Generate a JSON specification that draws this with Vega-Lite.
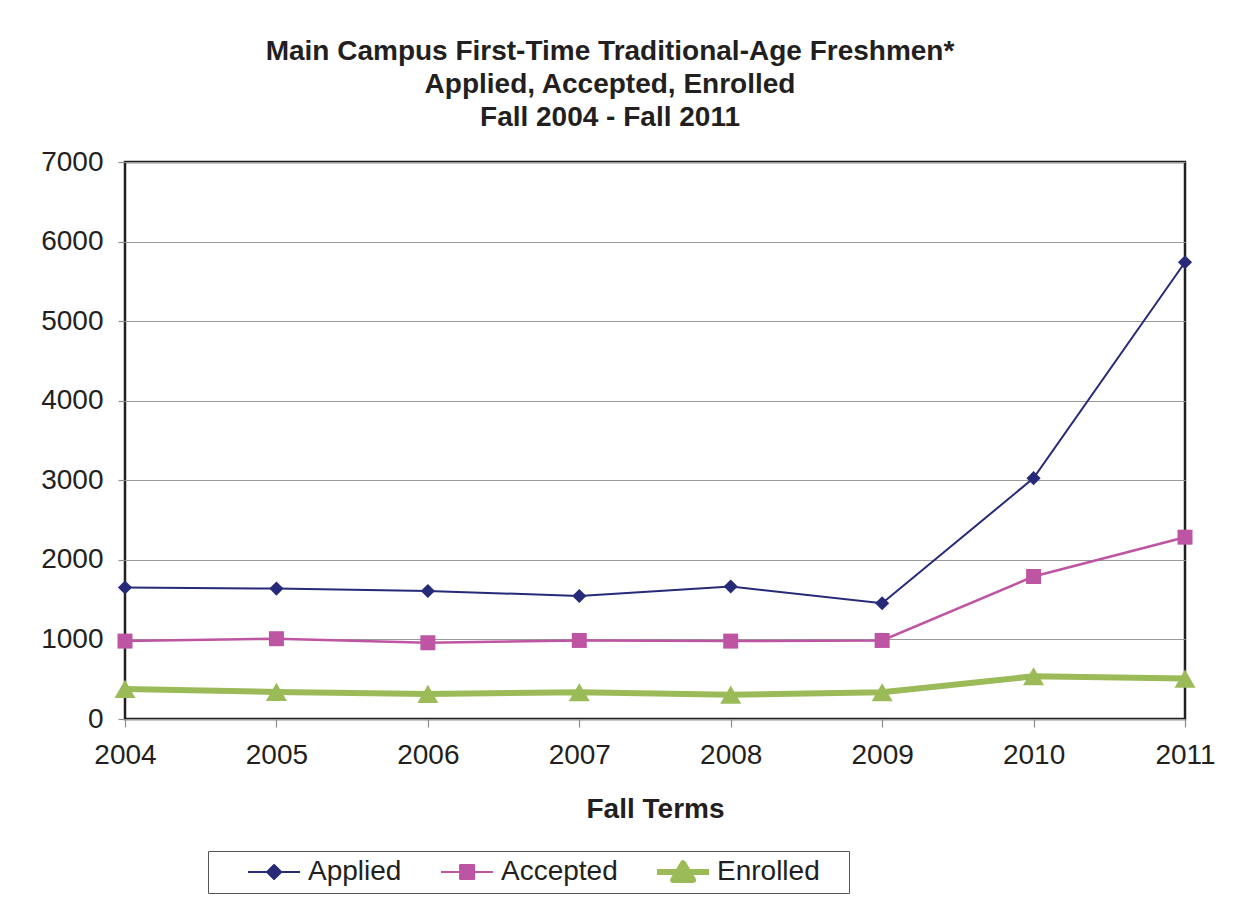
{
  "$schema": "https://vega.github.io/schema/vega-lite/v6.json",
  "width": 1060,
  "height": 557,
  "autosize": {"type": "none"},
  "padding": {"left": 125, "top": 162, "right": 69, "bottom": 188},
  "background": "white",
  "title": {
    "text": ["Main Campus First-Time Traditional-Age Freshmen*", "Applied, Accepted, Enrolled", "Fall 2004 - Fall 2011"],
    "anchor": "middle",
    "frame": "group",
    "dx": -45,
    "offset": 16,
    "font": "Liberation Sans",
    "fontSize": 28,
    "fontWeight": "bold",
    "lineHeight": 33,
    "color": "#231F20"
  },
  "config": {
    "view": {"stroke": "#231F20", "strokeWidth": 2.5},
    "axis": {
      "labelFont": "Liberation Sans",
      "labelFontSize": 28,
      "labelColor": "#231F20",
      "titleFont": "Liberation Sans",
      "titleFontSize": 28,
      "titleFontWeight": "bold",
      "titleColor": "#231F20",
      "domain": false,
      "tickColor": "#8c8c8c",
      "tickWidth": 1.2
    }
  },
  "data": {
    "values": [
      {"year": "2004", "series": "Applied", "count": 1652},
      {"year": "2005", "series": "Applied", "count": 1639},
      {"year": "2006", "series": "Applied", "count": 1609},
      {"year": "2007", "series": "Applied", "count": 1546},
      {"year": "2008", "series": "Applied", "count": 1665},
      {"year": "2009", "series": "Applied", "count": 1454},
      {"year": "2010", "series": "Applied", "count": 3027},
      {"year": "2011", "series": "Applied", "count": 5740},
      {"year": "2004", "series": "Accepted", "count": 979},
      {"year": "2005", "series": "Accepted", "count": 1009},
      {"year": "2006", "series": "Accepted", "count": 958},
      {"year": "2007", "series": "Accepted", "count": 987},
      {"year": "2008", "series": "Accepted", "count": 979},
      {"year": "2009", "series": "Accepted", "count": 987},
      {"year": "2010", "series": "Accepted", "count": 1791},
      {"year": "2011", "series": "Accepted", "count": 2285},
      {"year": "2004", "series": "Enrolled", "count": 378},
      {"year": "2005", "series": "Enrolled", "count": 340},
      {"year": "2006", "series": "Enrolled", "count": 315},
      {"year": "2007", "series": "Enrolled", "count": 336},
      {"year": "2008", "series": "Enrolled", "count": 306},
      {"year": "2009", "series": "Enrolled", "count": 336},
      {"year": "2010", "series": "Enrolled", "count": 537},
      {"year": "2011", "series": "Enrolled", "count": 508}
    ]
  },
  "encoding": {
    "x": {
      "field": "year",
      "type": "ordinal",
      "scale": {"type": "point", "padding": 0},
      "axis": {
        "title": "Fall Terms",
        "labelAngle": 0,
        "tickSize": 8,
        "labelPadding": 14,
        "titlePadding": 26,
        "grid": false
      }
    },
    "y": {
      "field": "count",
      "type": "quantitative",
      "scale": {"domain": [0, 7000], "nice": false},
      "axis": {
        "title": null,
        "values": [0, 1000, 2000, 3000, 4000, 5000, 6000, 7000],
        "format": "d",
        "tickSize": 7,
        "labelPadding": 15,
        "grid": true,
        "gridColor": "#9a9a9a",
        "gridWidth": 1.2
      }
    },
    "color": {
      "field": "series",
      "type": "nominal",
      "scale": {"domain": ["Applied", "Accepted", "Enrolled"], "range": ["#262A78", "#BE55A3", "#9BBB59"]},
      "legend": null
    }
  },
  "layer": [
    {
      "transform": [{"filter": "datum.series === 'Applied'"}],
      "mark": {"type": "line", "strokeWidth": 2},
      "encoding": {
        "color": {
          "field": "series",
          "type": "nominal",
          "scale": {"domain": ["Applied", "Accepted", "Enrolled"], "range": ["#262A78", "#BE55A3", "#9BBB59"]},
          "legend": {
            "title": null,
            "orient": "none",
            "legendX": 83,
            "legendY": 689,
            "direction": "horizontal",
            "padding": 7,
            "strokeColor": "#555555",
            "fillColor": "white",
            "labelFont": "Liberation Sans",
            "labelFontSize": 28,
            "labelColor": "#231F20",
            "labelLimit": 300,
            "symbolSize": 484,
            "symbolStrokeWidth": 2,
            "labelOffset": 65,
            "columnPadding": 6,
            "encode": {
              "symbols": {
                "update": {
                  "shape": {"signal": "datum.value === 'Applied' ? 'M1.73,0H6.46M4.1,-0.64L4.74,0L4.1,0.64L3.46,0Z' : datum.value === 'Accepted' ? 'M1.73,0H6.46M3.46,-0.64H4.74V0.64H3.46Z' : 'M1.73,0H6.46M4.1,-0.8L5.01,0.72L3.19,0.72ZM18.2,0'"},
                  "fill": {"signal": "datum.value === 'Applied' ? '#262A78' : datum.value === 'Accepted' ? '#BE55A3' : '#9BBB59'"},
                  "stroke": {"signal": "datum.value === 'Applied' ? '#262A78' : datum.value === 'Accepted' ? '#BE55A3' : '#9BBB59'"},
                  "strokeWidth": {"signal": "datum.value === 'Enrolled' ? 6 : 2"},
                  "strokeJoin": {"value": "round"},
                  "opacity": {"value": 1}
                }
              }
            }
          }
        }
      }
    },
    {
      "transform": [{"filter": "datum.series === 'Accepted'"}],
      "mark": {"type": "line", "strokeWidth": 2.5},
      "encoding": {}
    },
    {
      "transform": [{"filter": "datum.series === 'Enrolled'"}],
      "mark": {"type": "line", "strokeWidth": 6},
      "encoding": {}
    },
    {
      "transform": [{"filter": "datum.series === 'Applied'"}],
      "mark": {"type": "point", "filled": true, "opacity": 1, "shape": "diamond", "size": 200},
      "encoding": {}
    },
    {
      "transform": [{"filter": "datum.series === 'Accepted'"}],
      "mark": {"type": "point", "filled": true, "opacity": 1, "shape": "square", "size": 225},
      "encoding": {}
    },
    {
      "transform": [{"filter": "datum.series === 'Enrolled'"}],
      "mark": {"type": "point", "filled": true, "opacity": 1, "shape": "triangle-up", "size": 440},
      "encoding": {}
    }
  ]
}
